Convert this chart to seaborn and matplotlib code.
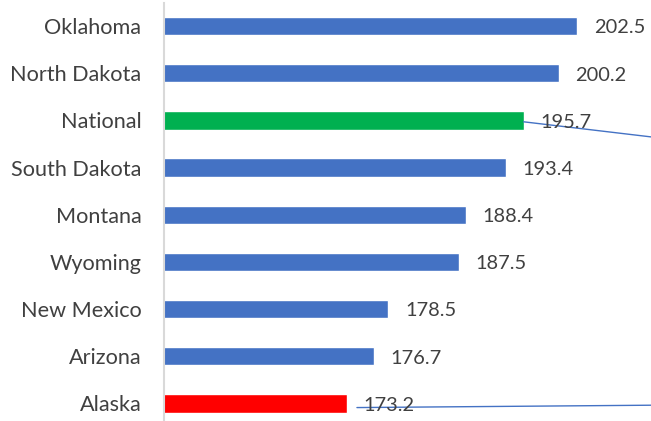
import matplotlib
matplotlib.use("Agg")
import matplotlib.pyplot as plt
import seaborn as sns
import pandas as pd

# Categories (top to bottom) and their values
states = ["Oklahoma", "North Dakota", "National", "South Dakota", "Montana",
          "Wyoming", "New Mexico", "Arizona", "Alaska"]
values = [202.5, 200.2, 195.7, 193.4, 188.4, 187.5, 178.5, 176.7, 173.2]
bar_colors = ["#4472C4", "#4472C4", "#00B050", "#4472C4", "#4472C4",
              "#4472C4", "#4472C4", "#4472C4", "#FF0000"]

df = pd.DataFrame({"state": states, "value": values})

sns.set_theme(style="white")
plt.rcParams["font.family"] = ["Lato", "DejaVu Sans"]
text_color = "#404040"

fig = plt.figure(figsize=(6.51, 4.21), dpi=100)
ax = fig.add_axes([164.3 / 651, -5.9 / 421, (651 - 164.3) / 651, 424.4 / 421])

sns.barplot(data=df, x="value", y="state", hue="state", palette=bar_colors,
            saturation=1, legend=False, width=0.39, ax=ax, orient="h")

x_min, x_max = 150, 211.9
ax.set_xlim(x_min, x_max)
ax.set_ylim(len(states) - 0.5, -0.5)

# Value labels just past the end of each bar
for i, v in enumerate(values):
    ax.text(v + 2.1, i + 0.04, f"{v:.1f}", va="center", ha="left",
            fontsize=14.4, color=text_color)

# Callout leader lines for the highlighted labels
i_nat = states.index("National")
ax.plot([values[i_nat], x_max], [i_nat + 0.03, i_nat + 0.35],
        color="#4472C4", lw=1.0, clip_on=False)
i_ak = states.index("Alaska")
ax.plot([values[i_ak] + 1.3, x_max], [i_ak + 0.09, i_ak + 0.04],
        color="#4472C4", lw=1.0, clip_on=False)

ax.set_xlabel("")
ax.set_ylabel("")
ax.set_xticks([])
ax.tick_params(axis="y", length=0, pad=16.5, labelsize=15.6, labelcolor=text_color)
for side in ["top", "right", "bottom"]:
    ax.spines[side].set_visible(False)
ax.spines["left"].set_color("#D9D9D9")
ax.spines["left"].set_linewidth(1.5)

fig.savefig("out.png", dpi=100)
